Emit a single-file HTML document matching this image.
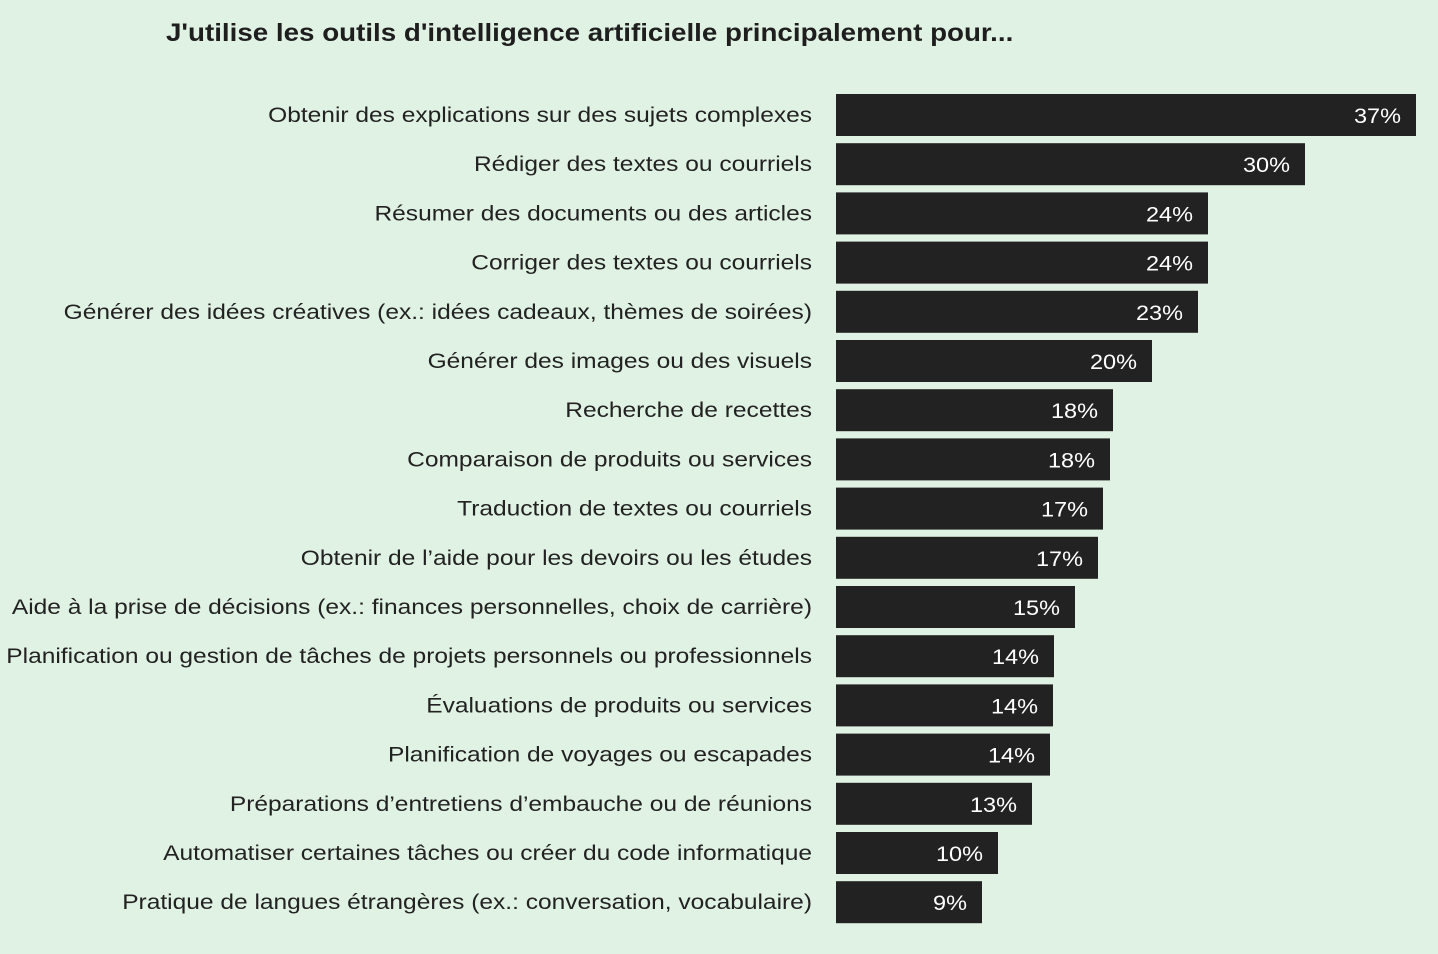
<!DOCTYPE html>
<html><head><meta charset="utf-8"><style>
html,body{margin:0;padding:0;background:#e0f2e3;}
svg{display:block;font-family:"Liberation Sans","DejaVu Sans",sans-serif;}
</style></head><body>
<svg width="1438" height="954" viewBox="0 0 1438 954">
<rect width="1438" height="954" fill="#e0f2e3"/>
<g transform="translate(166,41) scale(1.11,1)"><text x="0" y="0" font-size="25" font-weight="bold" fill="#1e1e1e">J'utilise les outils d'intelligence artificielle principalement pour...</text></g>
<g id="bars"></g>
</svg>
<script>
var d=[["Obtenir des explications sur des sujets complexes",1416,"37%"],
["Rédiger des textes ou courriels",1305,"30%"],
["Résumer des documents ou des articles",1208,"24%"],
["Corriger des textes ou courriels",1208,"24%"],
["Générer des idées créatives (ex.: idées cadeaux, thèmes de soirées)",1198,"23%"],
["Générer des images ou des visuels",1152,"20%"],
["Recherche de recettes",1113,"18%"],
["Comparaison de produits ou services",1110,"18%"],
["Traduction de textes ou courriels",1103,"17%"],
["Obtenir de l’aide pour les devoirs ou les études",1098,"17%"],
["Aide à la prise de décisions (ex.: finances personnelles, choix de carrière)",1075,"15%"],
["Planification ou gestion de tâches de projets personnels ou professionnels",1054,"14%"],
["Évaluations de produits ou services",1053,"14%"],
["Planification de voyages ou escapades",1050,"14%"],
["Préparations d’entretiens d’embauche ou de réunions",1032,"13%"],
["Automatiser certaines tâches ou créer du code informatique",998,"10%"],
["Pratique de langues étrangères (ex.: conversation, vocabulaire)",982,"9%"]];
var g=document.getElementById("bars"),s="";
d.forEach(function(r,i){var y=94+i*49.2;
s+='<rect x="836" y="'+y+'" width="'+(r[1]-836)+'" height="42" fill="#222"/>';
s+='<g transform="translate(812,'+(y+28)+') scale(1.168,1)"><text x="0" y="0" font-size="21" text-anchor="end" fill="#222">'+r[0]+'</text></g>';
s+='<g transform="translate('+(r[1]-15)+','+(y+29)+') scale(1.12,1)"><text x="0" y="0" font-size="21" text-anchor="end" fill="#fff">'+r[2]+'</text></g>';});
g.innerHTML=s;
</script>
</body></html>
